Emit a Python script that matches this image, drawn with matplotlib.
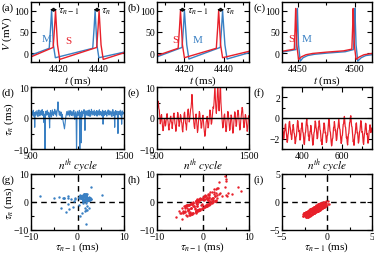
import numpy as np
import matplotlib
matplotlib.use('Agg')
import matplotlib.pyplot as plt
from matplotlib.ticker import MultipleLocator, FixedLocator

plt.rcParams['font.family'] = ['Liberation Serif', 'DejaVu Serif']
plt.rcParams['mathtext.fontset'] = 'stix'

BLUE = '#3a80c3'
RED = '#e8202a'

# --- voltage traces (ms, mV) ---
a_m_t = [4406, 4415.2, 4415.9, 4416.4, 4417.3, 4418.3, 4437.2, 4437.9, 4438.4, 4439.3, 4440.3, 4454]
a_m_v = [-4, 12, 60, 100, 20, -10, 12, 60, 100, 20, -10, 4]
a_s_t = [4406, 4417.2, 4417.9, 4418.4, 4419.4, 4420.5, 4439.2, 4439.9, 4440.4, 4441.4, 4442.5, 4454]
a_s_v = [-8, 14, 60, 100, 20, -14, 14, 60, 100, 20, -14, 3]

b_s_t = [4406, 4416.8, 4417.5, 4418.0, 4419.0, 4420.0, 4436.3, 4437.0, 4437.5, 4438.5, 4439.5, 4454]
b_s_v = [-5, 12, 60, 100, 20, -10, 12, 60, 100, 20, -10, 6]
b_m_t = [4406, 4418.8, 4419.5, 4420.0, 4421.2, 4422.3, 4438.3, 4439.0, 4439.5, 4440.7, 4441.8, 4454]
b_m_v = [-8, 14, 60, 100, 20, -13, 14, 60, 100, 20, -13, 3]

c_s_t = [4436, 4446.8, 4447.5, 4448.0, 4449.0, 4450.5, 4453, 4457, 4463, 4475, 4490,
         4497.3, 4498.0, 4498.5, 4499.5, 4501.0, 4504, 4508, 4515]
c_s_v = [5, 10, 60, 105, 20, -14, -8, -3, 0, 3, 6, 10, 60, 105, 20, -14, -8, -3, 0]
c_m_t = [4436, 4448.3, 4449.0, 4449.5, 4450.5, 4452.0, 4454.5, 4458.5, 4464.5, 4476.5, 4491.5,
         4498.8, 4499.5, 4500.0, 4501.0, 4502.5, 4505.5, 4509.5, 4515]
c_m_v = [3, 9, 60, 105, 20, -18, -10, -5, -2, 1, 4, 9, 60, 105, 20, -18, -10, -5, -3]

# --- tau_n series (ms), every 5th cycle for d/e, every 2nd for f ---
d_start, d_step = 500, 5
d_tau = [1.5, 2.2, 0.8, 1.9, 1.2, 2.5, 0.6, 1.8, -3.0, 1.4,
         2.0, 0.9, 1.7, 2.4, 1.1, 0.5, 1.9, 2.6, 1.3, 0.7,
         1.8, 2.3, 1.0, 1.6, 2.7, 0.8, 1.5, 2.1, -1.5, 1.2,
         -12.0, 1.4, 2.2, 0.9, 1.7, 2.5, 1.0, 1.9, 0.4, 1.6,
         -3.2, 1.3, 2.4, 1.1, 0.3, 1.8, 2.6, 1.2, 0.8, 2.0,
         1.5, 2.8, 1.0, 1.7, 2.3, 0.6, 2.0, 3.0, 5.2, 2.5,
         1.8, 0.9, 2.2, 1.4, 0.7, 1.9, -0.5, 1.2, 0.3, -1.0,
         -1.8, -2.5, -3.5, -2.0, -0.8, 0.5, 1.4, 2.1, 0.9, 1.6,
         2.3, 1.0, 1.8, 0.6, 2.4, 1.3, 1.9, 0.8, 2.2, 1.5,
         0.7, 1.8, 2.5, 1.1, -0.5, 1.6, 2.0, 0.4, -12.0, 1.5,
         2.2, 0.8, 1.7, 1.3, 2.5, -12.0, 1.0, 1.9, -8.0, 2.3,
         1.2, 0.6, 2.0, 1.5, 2.7, 1.0, -4.0, 1.8, 2.3, 0.9,
         1.6, 2.4, 1.1, 0.7, 1.9, 2.6, 1.3, 0.5, 2.1, 1.4,
         2.8, 0.9, 1.6, 2.2, 1.0, 1.8, 2.5, 0.8, 1.5, 2.0,
         1.2, 2.4, 0.6, 1.7, 2.3, 1.0, 1.9, 2.7, 0.9, 1.6,
         2.1, 1.3, 0.7, 1.8, 2.5, -2.0, 1.4, 2.2, 0.8, 1.7,
         2.4, 1.1, 1.9, 0.6, 2.0, 1.5, 2.6, 1.0, 1.8, 2.3,
         0.9, 1.6, 2.2, 1.2, 0.5, 1.9, 2.7, 1.3, 0.8, 2.0,
         -3.0, 1.5, 2.4, 1.0, 1.7, 2.2, 0.6, -5.0, 1.4, 2.1,
         1.1, 1.8, 2.5, 0.9, 1.6, -2.0, 2.3, 1.2, 1.9, 1.4]

e_start, e_step = 500, 5
e_tau = [1.2, 2.9, 4.8, 5.4, 3.1, 2.6, 0.4, -1.9, -1.3, 0.8,
         1.1, -0.9, -2.8, -4.1, -3.7, -1.5, -0.2, -0.8, -2.6, -2.3,
         -0.7, 0.9, 1.4, -0.3, -1.1, -3.0, -3.9, -2.2, -1.6, 0.3,
         0.6, -1.2, -1.5, -3.4, -2.1, -0.4, 1.2, 1.6, 0.2, -1.8,
         -2.4, -4.3, -3.3, -1.1, 0.1, 1.8, 1.2, -0.9, -2.7, -2.1,
         -0.3, 1.1, 0.7, -1.2, -1.6, -3.8, -4.5, -2.3, -0.6, 1.4,
         1.9, 0.2, -1.7, -2.1, -3.9, -1.6, 0.5, 2.4, 2.9, 0.8,
         -1.3, -0.7, 1.1, 2.8, 3.3, 5.1, 7.6, 5.3, 2.2, 0.6,
         -1.4, -2.9, -3.4, -1.2, 0.9, 1.3, -0.6, -2.8, -4.7, -3.9,
         -1.5, 0.3, 2.1, 1.6, -0.5, -1.0, -3.3, -3.1, -1.2, 0.4,
         0.9, -1.3, -3.0, -4.6, -5.9, -5.2, -3.1, -1.2, -0.8, 0.5,
         -1.6, -3.2, -2.7, -0.8, 1.2, 2.6, 2.2, 0.1, -2.0, -1.6,
         0.3, 1.9, 3.6, 3.1, 5.0, 8.1, 11.0, 6.2, 3.0, 1.5,
         3.4, 7.0, 11.0, 8.3, 4.1, 2.3, 4.7, 9.2, 11.0, 5.1,
         2.6, 0.4, -1.5, -3.2, -2.8, -0.6, 0.9, 1.3, -0.8, -2.7,
         -4.4, -3.8, -1.2, 0.6, 2.1, 1.6, -0.3, -2.4, -4.0, -3.5,
         -0.9, 1.0, 0.6, -1.6, -3.4, -4.9, -4.1, -1.5, 0.4, 2.0,
         1.5, -0.8, -2.7, -2.2, -0.1, 1.1, 2.5, 2.0, -0.2, -2.1,
         -3.9, -3.3, -1.0, 0.5, 2.3, 3.4, 2.9, 0.4, -1.5, -3.1,
         -2.6, -0.4, 1.1, 0.8, -0.7, -2.5, -4.3, -3.6, -1.4, 0.7]

f_start, f_step = 300, 2
f_tau = [-0.50, -0.92, -1.05, -1.61, -2.02, -1.88, -1.33, -1.21, -0.70, -0.58, -1.12, -1.49, -1.97, -2.35, -2.16,
         -1.62, -1.44, -0.96, -0.41, -0.33, -0.81, -1.02, -1.57, -1.63, -2.08, -1.71, -1.18, -1.09, -0.64, -0.97,
         -1.43, -1.51, -2.04, -2.48, -2.31, -1.83, -1.76, -1.24, -0.79, -0.25, -0.38, -0.89, -1.31, -1.20, -1.68,
         -2.14, -2.05, -1.52, -1.01, -0.94, -0.47, -0.81, -1.36, -1.42, -1.97, -2.41, -2.57, -2.02, -1.49, -1.37,
         -0.85, -0.31, -0.12, -0.66, -0.74, -1.29, -1.77, -1.69, -2.20, -1.84, -1.31, -1.25, -0.72, -1.08, -1.55,
         -1.62, -2.11, -2.63, -2.48, -1.97, -1.41, -1.33, -0.86, -0.29, -0.42, -0.94, -1.05, -1.58, -2.01, -1.90,
         -1.36, -0.88, -0.79, -0.27, -0.61, -1.14, -1.22, -1.74, -2.26, -2.15, -2.59, -2.05, -1.57, -1.44, -0.92,
         -0.48, -0.55, -1.06, -1.47, -1.39, -1.93, -2.37, -2.22, -1.71, -1.66, -1.12, -0.63, -0.11, -0.24, -0.77,
         -1.28, -1.37, -1.86, -2.33, -2.70, -2.51, -2.02, -1.94, -1.40, -0.91, -0.83, -0.35, -0.71, -1.23, -1.17,
         -1.69, -2.18, -2.06, -1.55, -1.01, -0.96, -0.44, -0.06, -0.52, -1.03, -1.11, -1.64, -2.12, -2.46, -2.29,
         -1.76, -1.68, -1.17, -0.62, -0.57, -0.12, 0.15, -0.31, -0.83, -0.91, -1.44, -1.93, -1.81, -2.34, -2.61,
         -2.13, -1.58, -1.49, -0.99, -0.45, -0.38, 0.08, 0.22, -0.27, -0.79, -0.86, -1.38, -1.87, -2.30, -2.17,
         -2.64, -2.12, -1.63, -1.55, -1.03, -0.59, -0.47, -0.95, -1.46, -1.40, -1.91, -2.43, -2.28, -1.79, -1.30,
         -1.21, -0.70, -0.26, -0.37, -0.88, -1.39, -1.33, -1.85, -2.36, -2.55, -2.04, -1.52, -1.46, -0.97, -0.51,
         -0.60, -1.09, -1.57, -1.50, -2.01, -2.44, -2.29, -1.74, -1.22, -1.15, -0.66, -0.94, -1.41, -1.33, -0.99]

W, H = 374, 255
fig = plt.figure(figsize=(W / 100, H / 100), dpi=100)

cols = [(31, 124), (157, 249), (282, 372)]
rows = [(3, 63), (88, 150), (175, 231)]
FS_TICK = 7
FS_LAB = 8


def make_ax(r, c):
    l, rr = cols[c]
    t, b = rows[r]
    ax = fig.add_axes([l / W, 1 - b / H, (rr - l) / W, (b - t) / H])
    for s in ax.spines.values():
        s.set_linewidth(1.0)
    ax.tick_params(which='both', direction='in', top=True, right=True,
                   labelsize=FS_TICK, pad=1.5, width=0.8)
    ax.tick_params(which='major', length=3.5)
    ax.tick_params(which='minor', length=2)
    return ax


def panel_label(r, c, s):
    x = cols[c][0] - 29
    y = rows[r][0] + 5
    fig.text(x / W, 1 - y / H, s, fontsize=FS_LAB, va='center', ha='left')


# ---------- row 1: voltage ----------
labels = ['(a)', '(b)', '(c)']
traces = [((a_m_t, a_m_v), (a_s_t, a_s_v)),
          ((b_m_t, b_m_v), (b_s_t, b_s_v)),
          ((c_m_t, c_m_v), (c_s_t, c_s_v))]
for c in range(3):
    ax = make_ax(0, c)
    (mt, mv), (st, sv) = traces[c]
    ax.plot(mt, mv, color=BLUE, lw=1.0)
    ax.plot(st, sv, color=RED, lw=1.0)
    ax.set_ylim(-20, 120)
    ax.yaxis.set_major_locator(FixedLocator([0, 50, 100]))
    ax.yaxis.set_minor_locator(MultipleLocator(25))
    if c < 2:
        ax.set_xlim(4406, 4453)
        ax.xaxis.set_major_locator(FixedLocator([4420, 4440]))
        ax.xaxis.set_minor_locator(MultipleLocator(10))
    else:
        ax.set_xlim(4436, 4515)
        ax.xaxis.set_major_locator(FixedLocator([4450, 4500]))
        ax.xaxis.set_minor_locator(MultipleLocator(25))
    ax.set_xlabel(r'$t$ (ms)', fontsize=FS_LAB, labelpad=0)
    if c == 0:
        ax.set_ylabel(r'$V$ (mV)', fontsize=FS_LAB, labelpad=0)
    panel_label(0, c, labels[c])

    if c == 0:
        ax.text(4414, 35, 'M', color=BLUE, fontsize=FS_LAB, ha='center', va='center')
        ax.text(4425, 30, 'S', color=RED, fontsize=FS_LAB, ha='center', va='center')
        pairs = [(a_m_t[3], a_s_t[3]), (a_m_t[8], a_s_t[8])]
    elif c == 1:
        ax.text(4415.3, 33, 'S', color=RED, fontsize=FS_LAB, ha='center', va='center')
        ax.text(4426.5, 33, 'M', color=BLUE, fontsize=FS_LAB, ha='center', va='center')
        pairs = [(b_s_t[3], b_m_t[3]), (b_s_t[8], b_m_t[8])]
    else:
        ax.text(4444, 35, 'S', color=RED, fontsize=FS_LAB, ha='center', va='center')
        ax.text(4457.5, 35, 'M', color=BLUE, fontsize=FS_LAB, ha='center', va='center')
        pairs = []
    for k, (t0, t1) in enumerate(pairs):
        ax.annotate('', xy=(t0 - 0.8, 102), xytext=(t1 + 0.8, 102),
                    arrowprops=dict(arrowstyle='<->', color='black', lw=0.8,
                                    mutation_scale=5, shrinkA=0, shrinkB=0))
        ax.text(t1 + 1.2, 100, r'$\tau_{n-1}$' if k == 0 else r'$\tau_n$',
                fontsize=FS_LAB, ha='left', va='center')

# ---------- row 2: tau_n vs cycle ----------
series = [(d_start, d_step, d_tau, BLUE), (e_start, e_step, e_tau, RED),
          (f_start, f_step, f_tau, RED)]
for c in range(3):
    ax = make_ax(1, c)
    start, step, tau, col = series[c]
    n = start + step * np.arange(len(tau))
    ax.plot(n, tau, color=col, lw=0.9 if c == 2 else 0.8)
    ax.axhline(0, color='black', lw=1.0, zorder=3)
    if c < 2:
        ax.set_xlim(500, 1500)
        ax.set_ylim(-10, 10)
        ax.xaxis.set_major_locator(FixedLocator([500, 1500]))
        ax.xaxis.set_minor_locator(FixedLocator([750, 1000, 1250]))
        ax.yaxis.set_major_locator(FixedLocator([-10, 0, 10]))
        ax.yaxis.set_minor_locator(MultipleLocator(5))
    else:
        ax.set_xlim(300, 750)
        ax.set_ylim(-3, 3)
        ax.xaxis.set_major_locator(FixedLocator([400, 600]))
        ax.xaxis.set_minor_locator(MultipleLocator(100))
        ax.yaxis.set_major_locator(FixedLocator([-2, 0, 2]))
        ax.yaxis.set_minor_locator(MultipleLocator(1))
    ax.set_xlabel(r'$n^{th}\ cycle$', fontsize=FS_LAB, labelpad=-2)
    if c == 0:
        ax.set_ylabel(r'$\tau_n$ (ms)', fontsize=FS_LAB, labelpad=-2)
    panel_label(1, c, ['(d)', '(e)', '(f)'][c])

# ---------- row 3: return maps ----------
for c in range(3):
    ax = make_ax(2, c)
    start, step, tau, col = series[c]
    tau = np.asarray(tau)
    ax.axhline(0, color='black', lw=1.0, ls=(0, (4, 3)), zorder=1)
    ax.axvline(0, color='black', lw=1.0, ls=(0, (4, 3)), zorder=1)
    ax.scatter(tau[:-1], tau[1:], s=3, color=col, marker='o', lw=0, zorder=2)
    if c < 2:
        lim, minor = 10, 5
    else:
        lim, minor = 5, 2.5
    ax.set_xlim(-lim, lim)
    ax.set_ylim(-lim, lim)
    ax.xaxis.set_major_locator(FixedLocator([-lim, 0, lim]))
    ax.yaxis.set_major_locator(FixedLocator([-lim, 0, lim]))
    ax.xaxis.set_minor_locator(MultipleLocator(minor))
    ax.yaxis.set_minor_locator(MultipleLocator(minor))
    ax.set_xlabel(r'$\tau_{n-1}$ (ms)', fontsize=FS_LAB, labelpad=-1)
    if c == 0:
        ax.set_ylabel(r'$\tau_n$ (ms)', fontsize=FS_LAB, labelpad=-2)
    panel_label(2, c, ['(g)', '(h)', '(i)'][c])

fig.savefig('out.png', dpi=100)
